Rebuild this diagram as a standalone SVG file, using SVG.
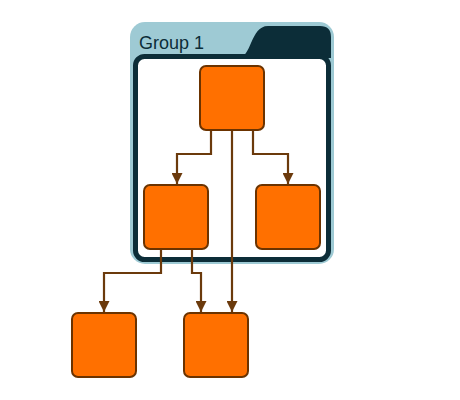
<svg xmlns="http://www.w3.org/2000/svg" width="460" height="400" viewBox="0 0 460 400">
<style>
.node{fill:#ff7000;stroke:#6b3300;stroke-width:2}
.edge{fill:none;stroke:#6b3a0c;stroke-width:2.2}
</style>
<defs>
<marker id="arr" viewBox="0 0 10 10" refX="10" refY="5" markerWidth="5" markerHeight="5" orient="auto" markerUnits="strokeWidth">
<path d="M0,0 L10,5 L0,10 Z" fill="#6b3a0c"/>
</marker>
</defs>
<rect width="460" height="400" fill="#ffffff"/>
<g id="group1">
<rect x="130" y="22" width="204" height="242" rx="15" fill="#9ecad4"/>
<path d="M238,58 C252,58 250,26 268,26 L320,26 Q331,26 331,37 L331,58 Z" fill="#0c2d38"/>
<rect x="135.5" y="56.5" width="193" height="203" rx="9" fill="#ffffff" stroke="#0c2d38" stroke-width="5"/>
<text x="139" y="49" font-family="Liberation Sans, Arial, sans-serif" font-size="18" fill="#0c2d38">Group 1</text>
</g>
<g id="connectors">
<path class="edge" d="M211,131 V154 H177 V184" marker-end="url(#arr)"/>
<path class="edge" d="M253,131 V154 H288 V184" marker-end="url(#arr)"/>
<path class="edge" d="M232,131 V312" marker-end="url(#arr)"/>
<path class="edge" d="M161,249 V273 H104 V312" marker-end="url(#arr)"/>
<path class="edge" d="M192,249 V273 H201 V312" marker-end="url(#arr)"/>
</g>
<g id="n1"><rect class="node" x="200" y="66" width="64" height="64" rx="6"/></g>
<g id="n2"><rect class="node" x="144" y="185" width="64" height="64" rx="6"/></g>
<g id="n3"><rect class="node" x="256" y="185" width="64" height="64" rx="6"/></g>
<g id="n4"><rect class="node" x="72" y="313" width="64" height="64" rx="6"/></g>
<g id="n5"><rect class="node" x="184" y="313" width="64" height="64" rx="6"/></g>
</svg>
